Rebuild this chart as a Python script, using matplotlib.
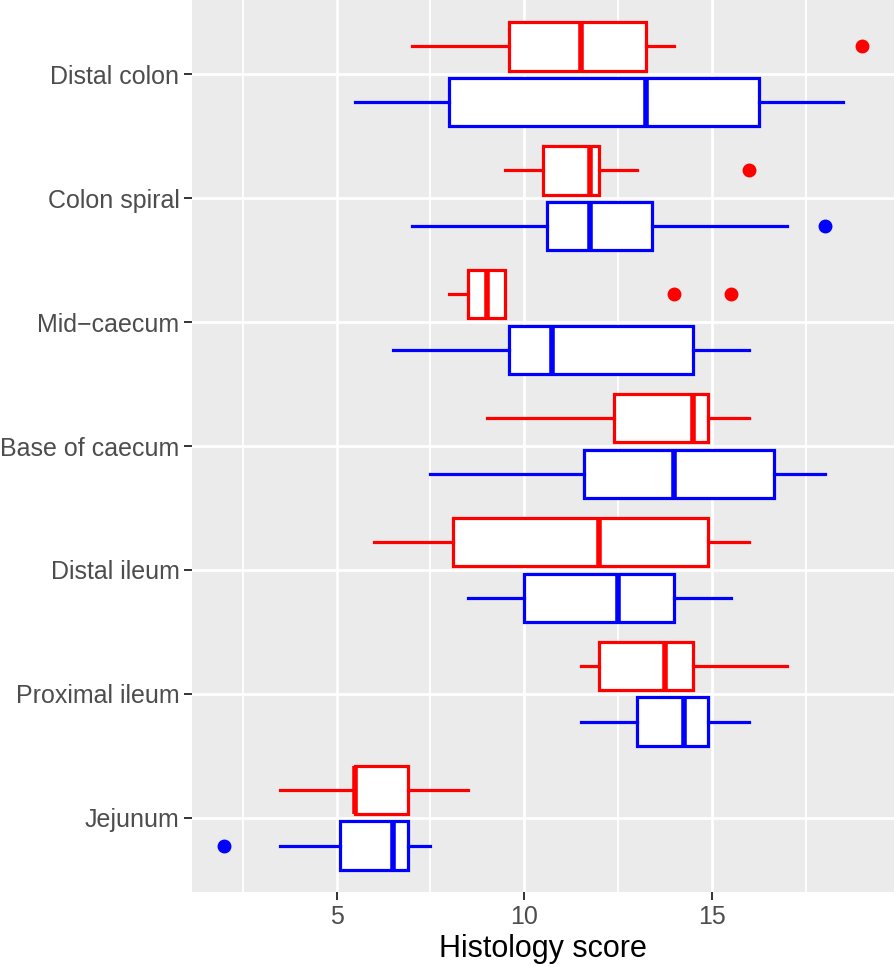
import matplotlib
matplotlib.use("Agg")
import matplotlib.pyplot as plt
from matplotlib.ticker import MultipleLocator

plt.rcParams['font.family'] = ['Liberation Sans', 'DejaVu Sans']

# categories listed top to bottom as in the figure
categories = ["Distal colon", "Colon spiral", "Mid\u2212caecum", "Base of caecum",
              "Distal ileum", "Proximal ileum", "Jejunum"]

# red group (upper box of each pair)
red_wlo = [7.0, 9.5, 8.0, 9.0, 6.0, 11.5, 3.5]
red_q1 = [9.6, 10.5, 8.5, 12.4, 8.1, 12.0, 5.5]
red_med = [11.5, 11.75, 9.0, 14.5, 12.0, 13.75, 5.5]
red_q3 = [13.25, 12.0, 9.5, 14.9, 14.9, 14.5, 6.9]
red_whi = [14.0, 13.0, 9.5, 16.0, 16.0, 17.0, 8.5]
red_out = [[19.0], [16.0], [14.0, 15.5], [], [], [], []]

# blue group (lower box of each pair)
blue_wlo = [5.5, 7.0, 6.5, 7.5, 8.5, 11.5, 3.5]
blue_q1 = [8.0, 10.6, 9.6, 11.6, 10.0, 13.0, 5.1]
blue_med = [13.25, 11.75, 10.75, 14.0, 12.5, 14.25, 6.5]
blue_q3 = [16.25, 13.4, 14.5, 16.65, 14.0, 14.9, 6.9]
blue_whi = [18.5, 17.0, 16.0, 18.0, 15.5, 16.0, 7.5]
blue_out = [[], [18.0], [], [], [], [], [2.0]]


def make_stats(wlo, q1, med, q3, whi, out):
    stats = []
    for i in range(len(med)):
        stats.append({'whislo': wlo[i], 'q1': q1[i], 'med': med[i], 'q3': q3[i],
                      'whishi': whi[i], 'fliers': out[i]})
    return stats


fig = plt.figure(figsize=(8.94, 9.67), dpi=100)
ax = fig.add_axes([192 / 894, 75 / 967, 702 / 894, 892 / 967])
ax.set_facecolor('#EBEBEB')

n = len(categories)
ypos = [n - i for i in range(n)]
offset = 0.225
height = 0.39

for stats_args, col, sign in [((red_wlo, red_q1, red_med, red_q3, red_whi, red_out), '#FF0000', 1),
                              ((blue_wlo, blue_q1, blue_med, blue_q3, blue_whi, blue_out), '#0000FF', -1)]:
    stats = make_stats(*stats_args)
    pos = [y + sign * offset for y in ypos]
    ax.bxp(stats, positions=pos, widths=height, orientation='horizontal',
           showcaps=False, patch_artist=True,
           boxprops=dict(facecolor='white', edgecolor=col, linewidth=2.3),
           whiskerprops=dict(color=col, linewidth=2.3),
           medianprops=dict(color=col, linewidth=4.0, solid_capstyle='butt'),
           flierprops=dict(marker='o', markerfacecolor=col, markeredgecolor=col,
                           markersize=9, linestyle='none'),
           zorder=3)

ax.set_xlim(1.15, 19.85)
ax.set_ylim(0.4, 7.6)
ax.xaxis.set_major_locator(MultipleLocator(5))
ax.xaxis.set_minor_locator(MultipleLocator(2.5))
ax.set_yticks(ypos)
ax.set_yticklabels(categories)

ax.grid(True, which='major', color='white', linewidth=2.0, zorder=0)
ax.grid(True, which='minor', axis='x', color='white', linewidth=1.3, zorder=0)
ax.set_axisbelow(True)

for s in ax.spines.values():
    s.set_visible(False)

ax.tick_params(axis='both', which='major', color='#333333', length=6, width=1.4,
               labelcolor='#4D4D4D', labelsize=18, pad=3)
ax.tick_params(axis='x', which='minor', length=0)

ax.set_xlabel("Histology score", fontsize=22, color='black', labelpad=4)

fig.savefig("out.png", dpi=100)
